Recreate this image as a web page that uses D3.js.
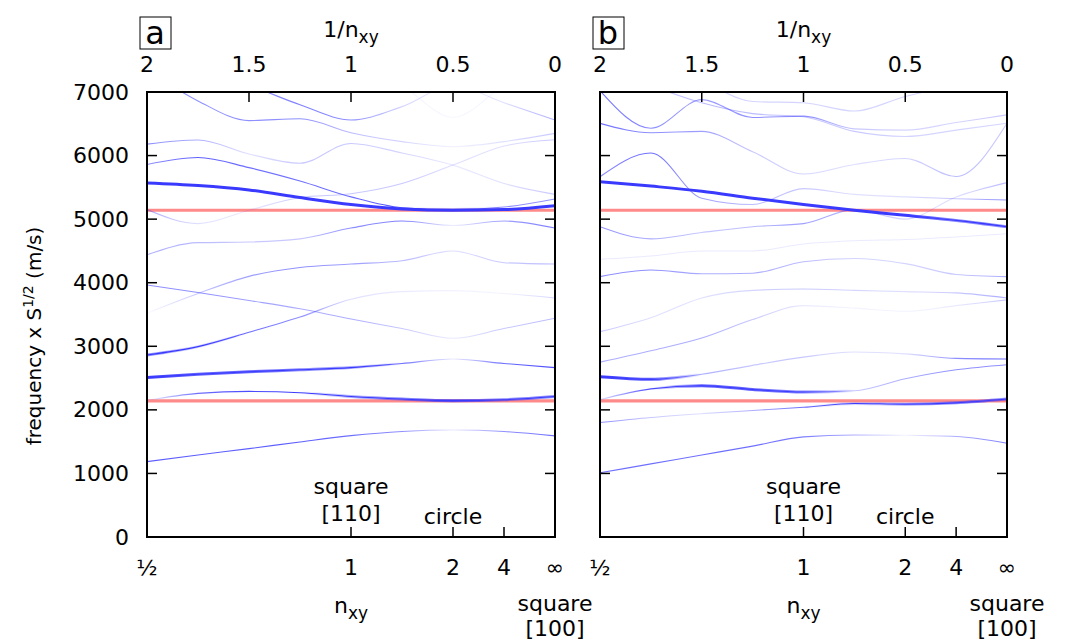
<!DOCTYPE html>
<html><head><meta charset="utf-8">
<script src="https://cdn.jsdelivr.net/npm/d3@7"></script>
<style>
body{margin:0;background:#fff}
text{font-family:"DejaVu Sans",sans-serif;fill:#000}
</style>
</head><body>
<svg id="chart" width="1065" height="643"></svg>
<script>
// ---------- data ----------
const uGrid = [2, 1.75, 1.5, 1.25, 1, 0.75, 0.5, 0.25, 0];   // 1/n_xy sample points
const topTicks = [2, 1.5, 1, 0.5, 0];
const topTickLabels = ["2", "1.5", "1", "0.5", "0"];
const bottomTicks = [2, 1, 0.5, 0.25, 0];
const bottomTickLabels = ["\u00bd", "1", "2", "4", "\u221e"];
const yTicks = [0, 1000, 2000, 3000, 4000, 5000, 6000, 7000];
const redLevels = [2140, 5140];

// panel a: frequency x S^1/2 (m/s) of each branch at uGrid
const aFreq = [
  [1185, 1290, 1390, 1495, 1594, 1660, 1683, 1660, 1590],
  [2150, 2260, 2290, 2270, 2210, 2170, 2145, 2160, 2210],
  [2510, 2560, 2600, 2630, 2665, 2730, 2800, 2730, 2665],
  [2863, 2995, 3220, 3460, 3740, 3860, 3875, 3830, 3760],
  [3964, 3845, 3720, 3590, 3430, 3280, 3126, 3280, 3440],
  [3520, 3830, 4100, 4240, 4294, 4346, 4500, 4315, 4294],
  [4440, 4630, 4640, 4690, 4860, 4970, 4900, 4970, 4860],
  [5150, 4930, 5140, 5340, 5400, 5560, 5850, 6150, 6250],
  [5570, 5530, 5460, 5340, 5230, 5160, 5140, 5150, 5210],
  [5860, 5970, 5810, 5600, 5350, 5180, 5150, 5190, 5317],
  [6180, 6245, 6025, 5880, 6190, 6040, 5850, 5560, 5390],
  [7350, 6860, 6550, 6580, 6360, 6220, 6140, 6220, 6350],
  [7600, 7300, 7100, 6800, 6560, 6770, 7100, 6830, 6560],
  [8000, 8000, 8000, 8000, 7500, 7100, 6600, 7100, 7500]
];
// coupling strength (0..1) of each branch at uGrid
const aStrength = [
  [0.65, 0.65, 0.65, 0.65, 0.6, 0.5, 0.15, 0.5, 0.6],
  [0.1, 0.6, 0.7, 0.75, 0.85, 0.9, 0.95, 0.9, 0.9],
  [1, 0.95, 0.95, 0.9, 0.85, 0.6, 0.15, 0.6, 0.7],
  [0.9, 0.8, 0.6, 0.5, 0.2, 0.15, 0.1, 0.1, 0.25],
  [0.5, 0.5, 0.45, 0.4, 0.4, 0.3, 0.15, 0.3, 0.35],
  [0.05, 0.3, 0.45, 0.5, 0.45, 0.35, 0.2, 0.3, 0.35],
  [0.4, 0.35, 0.3, 0.3, 0.5, 0.55, 0.15, 0.45, 0.55],
  [0.4, 0.2, 0.15, 0.3, 0.3, 0.3, 0.2, 0.2, 0.3],
  [1, 1, 1, 1, 1, 1, 1, 1, 1],
  [0.5, 0.65, 0.6, 0.6, 0.6, 0.7, 0.8, 0.5, 0.5],
  [0.5, 0.4, 0.2, 0.3, 0.3, 0.25, 0.15, 0.2, 0.3],
  [0.5, 0.5, 0.5, 0.5, 0.35, 0.25, 0.1, 0.2, 0.3],
  [0.5, 0.5, 0.5, 0.55, 0.5, 0.25, 0.1, 0.2, 0.4],
  [0.1, 0.1, 0.1, 0.1, 0.1, 0.1, 0.08, 0.1, 0.1]
];

// panel b
const bFreq = [
  [1010, 1150, 1290, 1430, 1575, 1605, 1600, 1580, 1475],
  [1800, 1880, 1940, 1990, 2040, 2100, 2090, 2110, 2170],
  [2160, 2330, 2380, 2320, 2280, 2300, 2490, 2630, 2710],
  [2520, 2480, 2560, 2700, 2830, 2910, 2880, 2810, 2800],
  [2750, 2930, 3130, 3420, 3640, 3600, 3550, 3640, 3730],
  [3230, 3450, 3760, 3880, 3900, 3880, 3860, 3840, 3760],
  [4095, 4200, 4140, 4150, 4330, 4380, 4300, 4130, 4095],
  [4368, 4420, 4500, 4500, 4610, 4660, 4680, 4720, 4770],
  [4880, 4690, 4790, 4880, 4930, 5150, 5000, 5350, 5574],
  [5590, 5520, 5440, 5330, 5230, 5140, 5060, 4980, 4880],
  [5668, 6040, 5330, 5230, 5480, 5390, 5350, 5320, 5300],
  [6507, 6360, 6380, 6060, 5710, 5860, 5955, 5670, 6507],
  [7020, 6430, 6880, 6600, 6620, 6420, 6400, 6520, 6640],
  [7400, 7100, 6830, 6660, 6610, 6380, 6300, 6400, 6510],
  [7500, 7300, 7150, 6850, 6830, 6700, 6930, 7100, 7200]
];
const bStrength = [
  [0.6, 0.6, 0.6, 0.6, 0.55, 0.4, 0.1, 0.4, 0.55],
  [0.5, 0.3, 0.2, 0.4, 0.6, 0.8, 0.85, 0.9, 0.9],
  [0.2, 0.7, 0.95, 0.95, 0.9, 0.3, 0.4, 0.5, 0.5],
  [1, 0.95, 0.4, 0.3, 0.3, 0.2, 0.2, 0.5, 0.6],
  [0.4, 0.4, 0.4, 0.3, 0.15, 0.1, 0.1, 0.15, 0.3],
  [0.3, 0.2, 0.2, 0.25, 0.3, 0.25, 0.2, 0.3, 0.4],
  [0.5, 0.5, 0.4, 0.4, 0.35, 0.25, 0.25, 0.3, 0.4],
  [0.15, 0.15, 0.15, 0.15, 0.15, 0.15, 0.15, 0.15, 0.15],
  [0.5, 0.4, 0.3, 0.35, 0.45, 0.35, 0.25, 0.2, 0.35],
  [1, 1, 1, 1, 1, 1, 1, 0.9, 0.9],
  [0.5, 0.6, 0.45, 0.35, 0.3, 0.2, 0.2, 0.3, 0.5],
  [0.6, 0.5, 0.45, 0.3, 0.25, 0.2, 0.25, 0.35, 0.3],
  [0.6, 0.5, 0.45, 0.5, 0.5, 0.3, 0.25, 0.25, 0.3],
  [0.3, 0.3, 0.35, 0.35, 0.3, 0.3, 0.25, 0.25, 0.25],
  [0.25, 0.25, 0.25, 0.25, 0.25, 0.25, 0.25, 0.25, 0.25]
];

// ---------- drawing ----------
const svg = d3.select("#chart");
const defs = svg.append("defs");
const BLUE = "#3a3aff";
const RED = "#ff8a8a";
const FS = 22;

const y = d3.scaleLinear().domain([0, 7000]).range([537, 92]);
const opacityOf = s => Math.pow(Math.min(1, s / 0.75), 1.4);
const thickOf = s => Math.max(0, Math.min(1, (s - 0.75) / 0.25));

const panels = [
  {id: "a", x0: 147, x1: 555, freq: aFreq, strength: aStrength},
  {id: "b", x0: 600, x1: 1007, freq: bFreq, strength: bStrength}
];

panels.forEach(p => {
  const x = d3.scaleLinear().domain([2, 0]).range([p.x0, p.x1]);
  const clipId = "clip" + p.id;
  defs.append("clipPath").attr("id", clipId)
    .append("rect").attr("x", p.x0).attr("y", y(7000))
    .attr("width", p.x1 - p.x0).attr("height", y(0) - y(7000));

  const g = svg.append("g");
  const plot = g.append("g").attr("clip-path", `url(#${clipId})`);

  redLevels.forEach(level => {
    plot.append("line")
      .attr("x1", x(2)).attr("x2", x(0))
      .attr("y1", y(level)).attr("y2", y(level))
      .attr("stroke", RED).attr("stroke-width", 3.2);
  });

  const line = d3.line()
    .x((d, i) => x(uGrid[i]))
    .y(d => y(d))
    .curve(d3.curveMonotoneX);

  p.freq.forEach((vals, k) => {
    const s = p.strength[k];
    [["thin", opacityOf, 1.1], ["thick", thickOf, 3]].forEach(([name, fn, w]) => {
      const gid = `g${p.id}${k}${name}`;
      const grad = defs.append("linearGradient").attr("id", gid)
        .attr("gradientUnits", "userSpaceOnUse")
        .attr("x1", x(2)).attr("x2", x(0)).attr("y1", 0).attr("y2", 0);
      s.forEach((v, i) => {
        grad.append("stop")
          .attr("offset", (x(uGrid[i]) - x(2)) / (x(0) - x(2)))
          .attr("stop-color", BLUE).attr("stop-opacity", fn(v));
      });
      plot.append("path").attr("d", line(vals))
        .attr("fill", "none").attr("stroke", `url(#${gid})`)
        .attr("stroke-width", w).attr("stroke-linejoin", "round");
    });
  });

  g.append("rect").attr("x", p.x0).attr("y", y(7000))
    .attr("width", p.x1 - p.x0).attr("height", y(0) - y(7000))
    .attr("fill", "none").attr("stroke", "#000").attr("stroke-width", 2);

  yTicks.forEach(t => {
    g.append("line").attr("x1", p.x0).attr("x2", p.x0 + 10)
      .attr("y1", y(t)).attr("y2", y(t)).attr("stroke", "#000").attr("stroke-width", 1.5);
    g.append("line").attr("x1", p.x1 - 10).attr("x2", p.x1)
      .attr("y1", y(t)).attr("y2", y(t)).attr("stroke", "#000").attr("stroke-width", 1.5);
  });

  topTicks.forEach((t, i) => {
    g.append("line").attr("x1", x(t)).attr("x2", x(t))
      .attr("y1", y(7000)).attr("y2", y(7000) + 10).attr("stroke", "#000").attr("stroke-width", 1.5);
    g.append("text").attr("x", x(t)).attr("y", 64)
      .attr("text-anchor", "middle").attr("dominant-baseline", "central")
      .attr("font-size", FS).text(topTickLabels[i]);
  });
  const tt = g.append("text").attr("x", x(1)).attr("y", 37)
    .attr("text-anchor", "middle").attr("font-size", FS);
  tt.append("tspan").text("1/n");
  tt.append("tspan").attr("dy", 6).attr("font-size", 17).text("xy");

  bottomTicks.forEach((t, i) => {
    g.append("line").attr("x1", x(t)).attr("x2", x(t))
      .attr("y1", y(0)).attr("y2", y(0) - 10).attr("stroke", "#000").attr("stroke-width", 1.5);
    g.append("text").attr("x", x(t)).attr("y", 567)
      .attr("text-anchor", "middle").attr("dominant-baseline", "central")
      .attr("font-size", FS).text(bottomTickLabels[i]);
  });
  const bt = g.append("text").attr("x", x(1)).attr("y", 613)
    .attr("text-anchor", "middle").attr("font-size", FS);
  bt.append("tspan").text("n");
  bt.append("tspan").attr("dy", 6).attr("font-size", 17).text("xy");
  g.append("text").attr("x", x(0)).attr("y", 611).attr("text-anchor", "middle")
    .attr("font-size", FS).text("square");
  g.append("text").attr("x", x(0)).attr("y", 636).attr("text-anchor", "middle")
    .attr("font-size", FS).text("[100]");

  g.append("text").attr("x", x(1)).attr("y", 494).attr("text-anchor", "middle")
    .attr("font-size", FS).text("square");
  g.append("text").attr("x", x(1)).attr("y", 521).attr("text-anchor", "middle")
    .attr("font-size", FS).text("[110]");
  g.append("text").attr("x", x(0.5)).attr("y", 524).attr("text-anchor", "middle")
    .attr("font-size", FS).text("circle");

  const lx = p.x0 + 8;
  g.append("rect").attr("x", lx - 15).attr("y", 17).attr("width", 31).attr("height", 32)
    .attr("fill", "none").attr("stroke", "#000").attr("stroke-width", 1);
  g.append("text").attr("x", lx).attr("y", 44).attr("text-anchor", "middle")
    .attr("font-size", 32).text(p.id);
});

yTicks.forEach(t => {
  svg.append("text").attr("x", 129).attr("y", y(t))
    .attr("text-anchor", "end").attr("dominant-baseline", "central")
    .attr("font-size", FS).text(t);
});

const yt = svg.append("text")
  .attr("transform", "translate(41,336) rotate(-90)")
  .attr("text-anchor", "middle").attr("font-size", 20);
yt.append("tspan").text("frequency x S");
yt.append("tspan").attr("dy", -8).attr("font-size", 14).text("1/2");
yt.append("tspan").attr("dy", 8).text(" (m/s)");
</script>
</body></html>
